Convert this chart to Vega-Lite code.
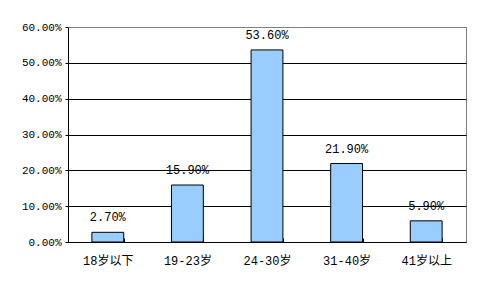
{
  "$schema": "https://vega.github.io/schema/vega-lite/v6.json",
  "width": 398,
  "height": 215,
  "autosize": {"type": "none"},
  "padding": {"left": 68, "top": 27, "right": 14, "bottom": 51},
  "background": "white",
  "data": {"values": [
    {"group": "18岁以下", "share": 0.027},
    {"group": "19-23岁", "share": 0.159},
    {"group": "24-30岁", "share": 0.536},
    {"group": "31-40岁", "share": 0.219},
    {"group": "41岁以上", "share": 0.059}
  ]},
  "encoding": {
    "x": {
      "field": "group", "type": "nominal", "sort": null,
      "scale": {"paddingInner": 0.6, "paddingOuter": 0.3},
      "axis": {"title": null, "labelAngle": 0, "tickBand": "extent", "tickSize": -4, "labelPadding": 17,
               "domainColor": "black", "tickColor": "black", "labelColor": "black",
               "labelFont": "Liberation Mono, Noto Sans CJK SC", "labelFontSize": 12}
    },
    "y": {
      "field": "share", "type": "quantitative",
      "scale": {"domain": [0, 0.6], "nice": false},
      "axis": {"title": null, "format": ".2%", "values": [0, 0.1, 0.2, 0.3, 0.4, 0.5, 0.6],
               "tickSize": 3, "labelPadding": 4, "domainColor": "black", "tickColor": "black",
               "gridColor": {"condition": {"test": "datum.value >= 0.6", "value": "#808080"}, "value": "black"},
               "gridOpacity": 1, "labelColor": "black",
               "labelFont": "Liberation Mono, Noto Sans CJK SC", "labelFontSize": 11}
    }
  },
  "layer": [
    {"mark": {"type": "bar", "fill": "#99CCFF", "stroke": "black", "strokeWidth": 1}},
    {"mark": {"type": "text", "baseline": "bottom", "dy": -8, "font": "Liberation Mono", "fontSize": 12, "color": "black"},
     "encoding": {"text": {"field": "share", "type": "quantitative", "format": ".2%"}}}
  ],
  "config": {
    "view": {"stroke": "#808080", "strokeWidth": 1},
    "axis": {"domainWidth": 1, "tickWidth": 1, "gridWidth": 1}
  }
}
